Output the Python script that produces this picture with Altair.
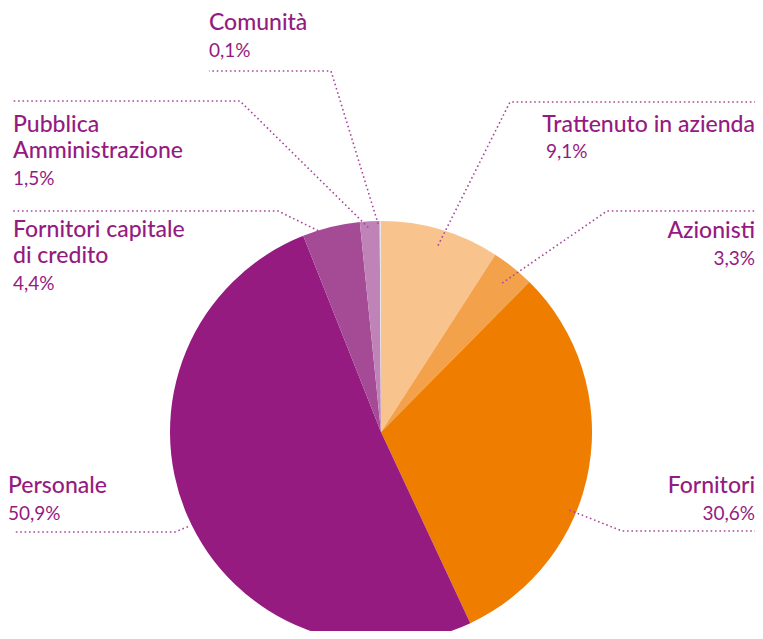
import math
import altair as alt
import pandas as pd

# ---------------- data ----------------
categories = ["Trattenuto in azienda", "Azionisti", "Fornitori", "Personale",
              "Fornitori capitale di credito", "Pubblica Amministrazione", "Comunità"]
values = [9.1, 3.3, 30.6, 50.9, 4.4, 1.5, 0.1]
value_labels = ["9,1%", "3,3%", "30,6%", "50,9%", "4,4%", "1,5%", "0,1%"]
title_lines = [["Trattenuto in azienda"], ["Azionisti"], ["Fornitori"], ["Personale"],
               ["Fornitori capitale", "di credito"], ["Pubblica", "Amministrazione"], ["Comunità"]]
colors = ["#f9c38d", "#f3a24b", "#ef7d00", "#951b80", "#a54b96", "#bf83b7", "#e6e6e6"]

# ---------------- layout (plot-area pixels) ----------------
W, H = 747, 623
CX, CY, R = 373, 424, 211
LINE_H = 26
TEXT_COLOR = "#951b81"
LEADER_COLOR = "#a8489c"
FONT = "Lato"
RX = 747  # right text edge

# title x, first baseline y, align ; value x, baseline y, align
title_pos = [(RX, 124, "right"), (RX, 230, "right"), (RX, 485, "right"), (0, 485, "left"),
             (5, 229, "left"), (5, 124, "left"), (201, 22, "left")]
value_pos = [(538, 150, "left"), (RX, 257, "right"), (RX, 512, "right"), (0, 512, "left"),
             (5, 282, "left"), (5, 177, "left"), (201, 49, "left")]
# leader: angle offset from slice middle (deg), anchor radius, elbow point, end point
leader_dtheta = [0.6, 0.4, 12.7, -2.8, -0.9, -0.5, -0.6]
leader_r = [195, 192, 204, 215, 202, 205, 208]
leader_elbow = [(502, 94), (599, 203), (614, 523), (167, 524), (270, 203), (232, 93), (323, 63)]
leader_end = [(747, 94), (747, 203), (747, 523), (5, 524), (5, 203), (5, 93), (201, 63)]

# ---------------- build tables ----------------
pie_df = pd.DataFrame({"cat": categories, "value": values, "idx": list(range(len(values)))})

total = sum(values)
lines_rows = []
cum = 0.0
for i, v in enumerate(values):
    mid = (cum + v / 2) / total * 360 + leader_dtheta[i]
    cum += v
    a = math.radians(mid)
    ax = CX + leader_r[i] * math.sin(a)
    ay = CY - leader_r[i] * math.cos(a)
    pts = [(ax, ay), leader_elbow[i], leader_end[i]]
    for k, (px, py) in enumerate(pts):
        lines_rows.append({"cat": categories[i], "k": k, "px": px, "py": py})
lines_df = pd.DataFrame(lines_rows)

text_rows = []
for i in range(len(categories)):
    tx, ty, ta = title_pos[i]
    for j, line in enumerate(title_lines[i]):
        text_rows.append({"t": line, "px": tx, "py": ty + j * LINE_H, "align": ta, "kind": "title"})
    vx, vy, va = value_pos[i]
    text_rows.append({"t": value_labels[i], "px": vx, "py": vy, "align": va, "kind": "value"})
text_df = pd.DataFrame(text_rows)

xs = alt.Scale(domain=[0, W], range=[0, W])
ys = alt.Scale(domain=[0, H], range=[0, H])

pie = alt.Chart(pie_df).mark_arc(outerRadius=R).encode(
    theta=alt.Theta("value:Q", stack=True),
    order=alt.Order("idx:Q"),
    color=alt.Color("cat:N", scale=alt.Scale(domain=categories, range=colors), legend=None),
    x=alt.value(CX),
    y=alt.value(CY),
)

leaders = alt.Chart(lines_df).mark_line(
    stroke=LEADER_COLOR, strokeWidth=1.6, strokeDash=[1.6, 2.8]
).encode(
    x=alt.X("px:Q", scale=xs, axis=None),
    y=alt.Y("py:Q", scale=ys, axis=None),
    detail="cat:N",
    order="k:Q",
)

def text_layer(kind, align, size, weight):
    return alt.Chart(text_df).transform_filter(
        (alt.datum.kind == kind) & (alt.datum.align == align)
    ).mark_text(
        align=align, baseline="alphabetic", font=FONT, fontSize=size,
        fontWeight=weight, color=TEXT_COLOR
    ).encode(
        x=alt.X("px:Q", scale=xs, axis=None),
        y=alt.Y("py:Q", scale=ys, axis=None),
        text="t:N",
    )

layers = [pie, leaders,
          text_layer("title", "left", 23, 500), text_layer("title", "right", 23, 500),
          text_layer("value", "left", 19, 400), text_layer("value", "right", 19, 400)]

chart = alt.layer(*layers).properties(
    width=W, height=H, autosize=alt.AutoSizeParams(type="none"), padding=0
).configure_view(stroke=None).resolve_scale(color="independent")

chart.save("out.html", embed_options={"renderer": "svg", "actions": False})
